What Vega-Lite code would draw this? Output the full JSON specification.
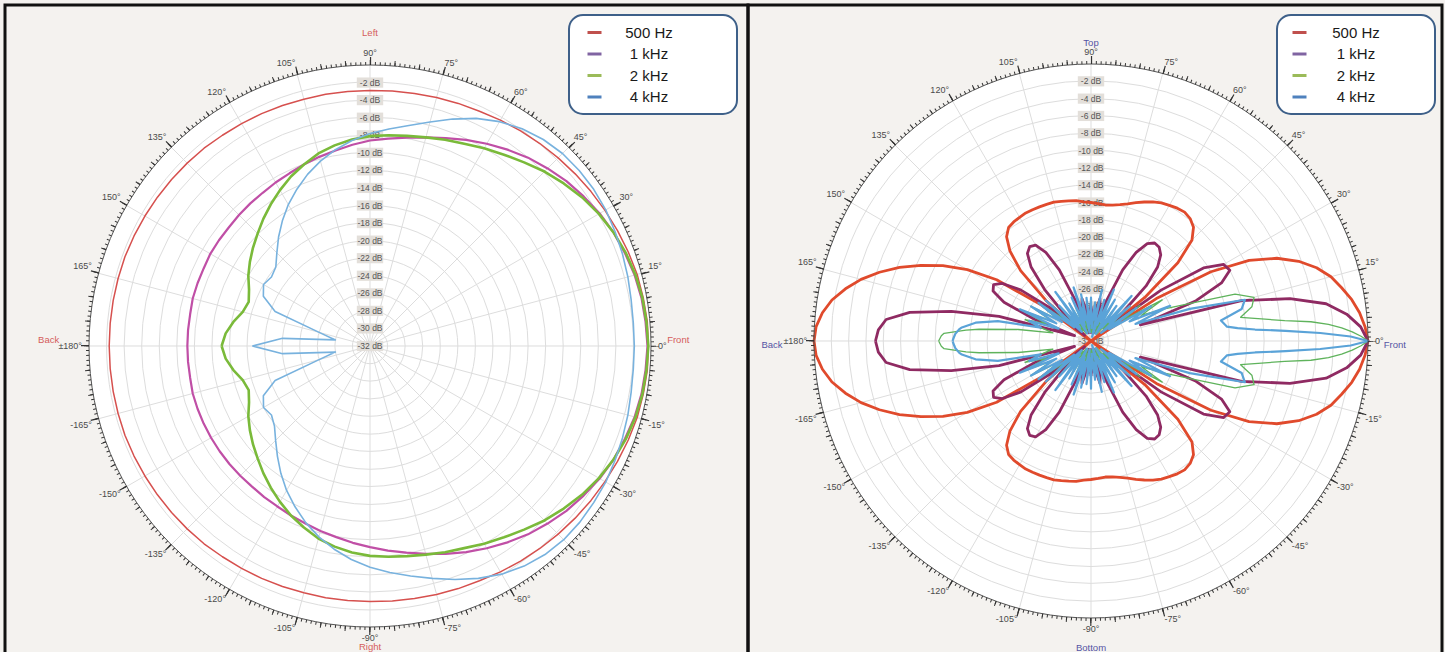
{
"$schema": "https://vega.github.io/schema/vega-lite/v6.json",
"background": "#f4f2ef",
"padding": {"left": 3, "top": 3, "right": 5, "bottom": 0},
"bounds": "flush",
"spacing": 0,
"config": {"view": {"stroke": "#111111", "strokeWidth": 3}, "font": "Liberation Sans", "axis": {"disable": true}, "legend": {"strokeWidth": 2}},
"resolve": {"scale": {"x": "independent", "y": "independent", "size": "independent", "stroke": "independent", "strokeWidth": "independent", "color": "independent"}, "legend": {"color": "independent"}},
"datasets": {
"ang": [{"a":0,"t":"0°"},{"a":15,"t":"15°"},{"a":30,"t":"30°"},{"a":45,"t":"45°"},{"a":60,"t":"60°"},{"a":75,"t":"75°"},{"a":90,"t":"90°"},{"a":105,"t":"105°"},{"a":120,"t":"120°"},{"a":135,"t":"135°"},{"a":150,"t":"150°"},{"a":165,"t":"165°"},{"a":180,"t":"±180°"},{"a":-165,"t":"-165°"},{"a":-150,"t":"-150°"},{"a":-135,"t":"-135°"},{"a":-120,"t":"-120°"},{"a":-105,"t":"-105°"},{"a":-90,"t":"-90°"},{"a":-75,"t":"-75°"},{"a":-60,"t":"-60°"},{"a":-45,"t":"-45°"},{"a":-30,"t":"-30°"},{"a":-15,"t":"-15°"}],
"dbl": [{"db":-2,"t":"-2 dB"},{"db":-4,"t":"-4 dB"},{"db":-6,"t":"-6 dB"},{"db":-8,"t":"-8 dB"},{"db":-10,"t":"-10 dB"},{"db":-12,"t":"-12 dB"},{"db":-14,"t":"-14 dB"},{"db":-16,"t":"-16 dB"},{"db":-18,"t":"-18 dB"},{"db":-20,"t":"-20 dB"},{"db":-22,"t":"-22 dB"},{"db":-24,"t":"-24 dB"},{"db":-26,"t":"-26 dB"},{"db":-28,"t":"-28 dB"},{"db":-30,"t":"-30 dB"},{"db":-32,"t":"-32 dB"}],
"dirL": [{"a":90,"t":"Left"},{"a":-90,"t":"Right"},{"a":180,"t":"Back"},{"a":0,"t":"Front"}],
"dirR": [{"a":90,"t":"Top"},{"a":-90,"t":"Bottom"},{"a":180,"t":"Back"},{"a":0,"t":"Front"}],
"left": [
{"a":-180,"f500":-2.3,"f1k":-11.2,"f2k":-15.1,"f4k":-18.6},
{"a":-175,"f500":-2.3,"f1k":-11.2,"f2k":-15.5,"f4k":-22},
{"a":-170,"f500":-2.3,"f1k":-11.2,"f2k":-16.2,"f4k":-28},
{"a":-165,"f500":-2.3,"f1k":-11.1,"f2k":-17.0,"f4k":-26},
{"a":-160,"f500":-2.3,"f1k":-11.1,"f2k":-17.3,"f4k":-20.5},
{"a":-155,"f500":-2.35,"f1k":-11.1,"f2k":-16.8,"f4k":-18.6},
{"a":-150,"f500":-2.4,"f1k":-11.1,"f2k":-16.0,"f4k":-18.0},
{"a":-145,"f500":-2.45,"f1k":-11.1,"f2k":-15.3,"f4k":-18.3},
{"a":-140,"f500":-2.5,"f1k":-11.1,"f2k":-14.6,"f4k":-17.8},
{"a":-135,"f500":-2.55,"f1k":-11.1,"f2k":-13.9,"f4k":-16.8},
{"a":-130,"f500":-2.6,"f1k":-11.1,"f2k":-13.1,"f4k":-15.6},
{"a":-125,"f500":-2.7,"f1k":-11.0,"f2k":-12.3,"f4k":-14.3},
{"a":-120,"f500":-2.75,"f1k":-10.9,"f2k":-11.5,"f4k":-13.0},
{"a":-115,"f500":-2.8,"f1k":-10.7,"f2k":-10.7,"f4k":-11.8},
{"a":-110,"f500":-2.85,"f1k":-10.5,"f2k":-10.0,"f4k":-10.6},
{"a":-105,"f500":-2.9,"f1k":-10.2,"f2k":-9.3,"f4k":-9.5},
{"a":-100,"f500":-2.9,"f1k":-9.9,"f2k":-8.8,"f4k":-8.5},
{"a":-95,"f500":-2.9,"f1k":-9.5,"f2k":-8.4,"f4k":-7.6},
{"a":-90,"f500":-2.9,"f1k":-9.1,"f2k":-8.1,"f4k":-6.8},
{"a":-85,"f500":-2.85,"f1k":-8.6,"f2k":-7.9,"f4k":-6.1},
{"a":-80,"f500":-2.8,"f1k":-8.1,"f2k":-7.7,"f4k":-5.4},
{"a":-75,"f500":-2.7,"f1k":-7.5,"f2k":-7.4,"f4k":-4.6},
{"a":-70,"f500":-2.6,"f1k":-6.8,"f2k":-7.0,"f4k":-3.7},
{"a":-65,"f500":-2.5,"f1k":-6.1,"f2k":-6.6,"f4k":-2.8},
{"a":-60,"f500":-2.3,"f1k":-5.4,"f2k":-6.0,"f4k":-2.0},
{"a":-55,"f500":-2.1,"f1k":-4.7,"f2k":-5.4,"f4k":-1.4},
{"a":-50,"f500":-1.9,"f1k":-4.0,"f2k":-4.7,"f4k":-1.0},
{"a":-45,"f500":-1.7,"f1k":-3.4,"f2k":-3.9,"f4k":-0.8},
{"a":-40,"f500":-1.5,"f1k":-2.8,"f2k":-3.2,"f4k":-0.8},
{"a":-35,"f500":-1.3,"f1k":-2.3,"f2k":-2.5,"f4k":-0.9},
{"a":-30,"f500":-1.1,"f1k":-1.8,"f2k":-1.9,"f4k":-1.0},
{"a":-25,"f500":-0.9,"f1k":-1.4,"f2k":-1.4,"f4k":-1.2},
{"a":-20,"f500":-0.7,"f1k":-1.1,"f2k":-1.0,"f4k":-1.4},
{"a":-15,"f500":-0.5,"f1k":-0.8,"f2k":-0.7,"f4k":-1.6},
{"a":-10,"f500":-0.4,"f1k":-0.6,"f2k":-0.5,"f4k":-1.8},
{"a":-5,"f500":-0.3,"f1k":-0.5,"f2k":-0.4,"f4k":-1.9},
{"a":0,"f500":-0.3,"f1k":-0.4,"f2k":-0.3,"f4k":-1.9},
{"a":5,"f500":-0.3,"f1k":-0.5,"f2k":-0.4,"f4k":-1.9},
{"a":10,"f500":-0.4,"f1k":-0.6,"f2k":-0.5,"f4k":-1.8},
{"a":15,"f500":-0.5,"f1k":-0.8,"f2k":-0.7,"f4k":-1.6},
{"a":20,"f500":-0.7,"f1k":-1.1,"f2k":-1.0,"f4k":-1.4},
{"a":25,"f500":-0.9,"f1k":-1.4,"f2k":-1.4,"f4k":-1.2},
{"a":30,"f500":-1.1,"f1k":-1.8,"f2k":-1.9,"f4k":-1.0},
{"a":35,"f500":-1.3,"f1k":-2.3,"f2k":-2.5,"f4k":-0.9},
{"a":40,"f500":-1.5,"f1k":-2.8,"f2k":-3.2,"f4k":-0.9},
{"a":45,"f500":-1.7,"f1k":-3.4,"f2k":-3.9,"f4k":-1.0},
{"a":50,"f500":-1.9,"f1k":-4.0,"f2k":-4.7,"f4k":-1.3},
{"a":55,"f500":-2.1,"f1k":-4.7,"f2k":-5.4,"f4k":-1.8},
{"a":60,"f500":-2.3,"f1k":-5.4,"f2k":-6.0,"f4k":-2.5},
{"a":65,"f500":-2.5,"f1k":-6.1,"f2k":-6.6,"f4k":-3.4},
{"a":70,"f500":-2.6,"f1k":-6.8,"f2k":-7.0,"f4k":-4.5},
{"a":75,"f500":-2.7,"f1k":-7.4,"f2k":-7.4,"f4k":-5.6},
{"a":80,"f500":-2.8,"f1k":-7.9,"f2k":-7.7,"f4k":-6.5},
{"a":85,"f500":-2.85,"f1k":-8.3,"f2k":-7.9,"f4k":-7.2},
{"a":90,"f500":-2.9,"f1k":-8.6,"f2k":-8.1,"f4k":-7.8},
{"a":95,"f500":-2.9,"f1k":-9.0,"f2k":-8.4,"f4k":-8.5},
{"a":100,"f500":-2.9,"f1k":-9.4,"f2k":-8.8,"f4k":-9.3},
{"a":105,"f500":-2.9,"f1k":-9.7,"f2k":-9.3,"f4k":-10.2},
{"a":110,"f500":-2.85,"f1k":-10.0,"f2k":-10.0,"f4k":-11.2},
{"a":115,"f500":-2.8,"f1k":-10.3,"f2k":-10.7,"f4k":-12.3},
{"a":120,"f500":-2.75,"f1k":-10.5,"f2k":-11.5,"f4k":-13.4},
{"a":125,"f500":-2.7,"f1k":-10.7,"f2k":-12.3,"f4k":-14.6},
{"a":130,"f500":-2.6,"f1k":-10.8,"f2k":-13.1,"f4k":-15.8},
{"a":135,"f500":-2.55,"f1k":-10.9,"f2k":-13.9,"f4k":-17.0},
{"a":140,"f500":-2.5,"f1k":-11.0,"f2k":-14.6,"f4k":-18.0},
{"a":145,"f500":-2.45,"f1k":-11.0,"f2k":-15.3,"f4k":-18.3},
{"a":150,"f500":-2.4,"f1k":-11.0,"f2k":-16.0,"f4k":-18.0},
{"a":155,"f500":-2.35,"f1k":-11.1,"f2k":-16.8,"f4k":-18.6},
{"a":160,"f500":-2.3,"f1k":-11.1,"f2k":-17.3,"f4k":-20.5},
{"a":165,"f500":-2.3,"f1k":-11.1,"f2k":-17.0,"f4k":-26},
{"a":170,"f500":-2.3,"f1k":-11.2,"f2k":-16.2,"f4k":-28},
{"a":175,"f500":-2.3,"f1k":-11.2,"f2k":-15.5,"f4k":-22},
{"a":180,"f500":-2.3,"f1k":-11.2,"f2k":-15.1,"f4k":-18.6}
],
"right": [
{"a":-180,"f500":0,"f1k":-7.1,"f2k":-14.4,"f4k":-16.0},
{"a":-178,"f2k":-14.7,"f4k":-16.2},
{"a":-177,"f500":-0.2,"f1k":-7.4,"f2k":-15.0,"f4k":-16.3},
{"a":-175,"f2k":-17.5,"f4k":-16.7},
{"a":-174,"f500":-0.8,"f1k":-8.2,"f2k":-19.0,"f4k":-17.0},
{"a":-171,"f500":-1.7,"f1k":-10.8,"f2k":-23.5,"f4k":-18.5},
{"a":-168,"f500":-3.0,"f1k":-15.5,"f2k":-27.5,"f4k":-21.0},
{"a":-165,"f500":-4.5,"f1k":-21.0,"f2k":-26.0,"f4k":-26.0},
{"a":-162,"f500":-6.3,"f1k":-30.0,"f2k":-24.0,"f4k":-24.5},
{"a":-159,"f500":-8.3,"f1k":-25.0,"f2k":-26.5,"f4k":-28.0},
{"a":-156,"f500":-10.5,"f1k":-21.0,"f2k":-23.5,"f4k":-23.0},
{"a":-153,"f500":-12.8,"f1k":-19.3,"f2k":-27.0,"f4k":-27.5},
{"a":-150,"f500":-15.5,"f1k":-19.0,"f2k":-24.0,"f4k":-24.0},
{"a":-147,"f500":-19.0,"f1k":-19.8,"f2k":-27.5,"f4k":-28.0},
{"a":-144,"f500":-25.0,"f1k":-22.0,"f2k":-24.5,"f4k":-24.5},
{"a":-141,"f500":-32.0,"f1k":-26.0,"f2k":-28.0,"f4k":-29.5},
{"a":-138,"f500":-25.0,"f1k":-31.0,"f2k":-25.5,"f4k":-25.0},
{"a":-135,"f500":-20.5,"f1k":-28.0,"f2k":-29.5,"f4k":-30.5},
{"a":-132,"f500":-18.0,"f1k":-24.0,"f2k":-26.5,"f4k":-26.5},
{"a":-129,"f500":-16.5,"f1k":-21.0,"f2k":-30.5,"f4k":-30.0},
{"a":-126,"f500":-15.8,"f1k":-19.5,"f2k":-28.0,"f4k":-25.0},
{"a":-123,"f500":-15.6,"f1k":-19.0,"f2k":-31.0,"f4k":-29.5},
{"a":-120,"f500":-15.5,"f1k":-19.2,"f2k":-27.0,"f4k":-27.0},
{"a":-117,"f500":-15.4,"f1k":-20.5,"f2k":-30.0,"f4k":-31.0},
{"a":-114,"f500":-15.4,"f1k":-23.0,"f2k":-27.5,"f4k":-26.5},
{"a":-111,"f500":-15.4,"f1k":-27.0,"f2k":-31.0,"f4k":-30.0},
{"a":-108,"f500":-15.4,"f1k":-31.0,"f2k":-28.0,"f4k":-25.5},
{"a":-105,"f500":-15.4,"f1k":-28.0,"f2k":-30.5,"f4k":-29.5},
{"a":-102,"f500":-15.5,"f1k":-27.0,"f2k":-28.5,"f4k":-26.5},
{"a":-99,"f500":-15.6,"f1k":-28.5,"f2k":-31.0,"f4k":-31.0},
{"a":-96,"f500":-15.7,"f1k":-31.0,"f2k":-29.5,"f4k":-27.0},
{"a":-93,"f500":-15.9,"f1k":-29.0,"f2k":-31.0,"f4k":-30.0},
{"a":-90,"f500":-16.0,"f1k":-28.0,"f2k":-29.0,"f4k":-26.5},
{"a":-87,"f500":-16.1,"f1k":-29.0,"f2k":-31.0,"f4k":-30.5},
{"a":-84,"f500":-16.2,"f1k":-31.0,"f2k":-29.5,"f4k":-27.5},
{"a":-81,"f500":-16.1,"f1k":-28.5,"f2k":-31.0,"f4k":-29.5},
{"a":-78,"f500":-15.9,"f1k":-27.0,"f2k":-29.0,"f4k":-26.0},
{"a":-75,"f500":-15.6,"f1k":-28.0,"f2k":-31.0,"f4k":-31.5},
{"a":-72,"f500":-15.2,"f1k":-31.0,"f2k":-28.0,"f4k":-27.0},
{"a":-69,"f500":-14.8,"f1k":-27.0,"f2k":-30.5,"f4k":-30.0},
{"a":-66,"f500":-14.4,"f1k":-23.0,"f2k":-28.5,"f4k":-25.5},
{"a":-63,"f500":-14.1,"f1k":-20.5,"f2k":-31.0,"f4k":-29.5},
{"a":-60,"f500":-13.9,"f1k":-19.0,"f2k":-27.0,"f4k":-26.5},
{"a":-57,"f500":-13.7,"f1k":-18.5,"f2k":-30.5,"f4k":-31.0},
{"a":-54,"f500":-13.6,"f1k":-18.6,"f2k":-28.0,"f4k":-27.0},
{"a":-51,"f500":-13.8,"f1k":-19.2,"f2k":-31.0,"f4k":-30.0},
{"a":-48,"f500":-14.3,"f1k":-20.5,"f2k":-27.5,"f4k":-25.0},
{"a":-45,"f500":-15.5,"f1k":-23.0,"f2k":-30.0,"f4k":-29.0},
{"a":-42,"f500":-18.5,"f1k":-27.0,"f2k":-26.0,"f4k":-26.0},
{"a":-39,"f500":-24.0,"f1k":-30.0,"f2k":-29.5,"f4k":-30.5},
{"a":-36,"f500":-32.0,"f1k":-22.0,"f2k":-25.0,"f4k":-25.5},
{"a":-33,"f500":-23.0,"f1k":-16.5,"f2k":-27.5,"f4k":-29.5},
{"a":-30,"f500":-16.0,"f1k":-14.3,"f2k":-22.5,"f4k":-24.0},
{"a":-27,"f500":-11.5,"f1k":-14.0,"f2k":-25.5,"f4k":-27.0},
{"a":-24,"f500":-8.5,"f1k":-15.5,"f2k":-23.0,"f4k":-22.0},
{"a":-21,"f500":-6.3,"f1k":-19.0,"f2k":-20.0,"f4k":-26.5},
{"a":-18,"f500":-4.6,"f1k":-26.0,"f2k":-14.5,"f4k":-20.0},
{"a":-15,"f500":-3.3,"f1k":-14.0,"f2k":-12.5,"f4k":-13.6},
{"a":-12,"f500":-2.4,"f1k":-8.5,"f2k":-13.0,"f4k":-14.2},
{"a":-9,"f500":-1.5,"f1k":-4.5,"f2k":-14.5,"f4k":-16.8},
{"a":-6,"f500":-0.8,"f1k":-2.3,"f2k":-9.5,"f4k":-16.2},
{"a":-5,"f2k":-6.5,"f4k":-15.0},
{"a":-4,"f2k":-4.5,"f4k":-13.0},
{"a":-3,"f500":-0.3,"f1k":-0.8,"f2k":-3.0,"f4k":-9.5},
{"a":-2,"f2k":-1.8,"f4k":-5.5},
{"a":-1,"f2k":-0.8,"f4k":-2.0},
{"a":0,"f500":0,"f1k":0,"f2k":0,"f4k":0},
{"a":1,"f2k":-0.8,"f4k":-2.0},
{"a":2,"f2k":-1.8,"f4k":-5.5},
{"a":3,"f500":-0.3,"f1k":-0.8,"f2k":-3.0,"f4k":-9.5},
{"a":4,"f2k":-4.5,"f4k":-13.0},
{"a":5,"f2k":-6.5,"f4k":-15.0},
{"a":6,"f500":-0.8,"f1k":-2.3,"f2k":-9.5,"f4k":-16.2},
{"a":9,"f500":-1.5,"f1k":-4.5,"f2k":-14.5,"f4k":-16.8},
{"a":12,"f500":-2.4,"f1k":-8.5,"f2k":-13.0,"f4k":-14.2},
{"a":15,"f500":-3.3,"f1k":-14.0,"f2k":-12.5,"f4k":-13.6},
{"a":18,"f500":-4.6,"f1k":-26.0,"f2k":-14.5,"f4k":-20.0},
{"a":21,"f500":-6.3,"f1k":-19.0,"f2k":-20.0,"f4k":-26.5},
{"a":24,"f500":-8.5,"f1k":-15.5,"f2k":-23.0,"f4k":-22.0},
{"a":27,"f500":-11.5,"f1k":-14.0,"f2k":-25.5,"f4k":-27.0},
{"a":30,"f500":-16.0,"f1k":-14.3,"f2k":-22.5,"f4k":-24.0},
{"a":33,"f500":-23.0,"f1k":-16.5,"f2k":-27.5,"f4k":-29.5},
{"a":36,"f500":-32.0,"f1k":-22.0,"f2k":-25.0,"f4k":-25.5},
{"a":39,"f500":-24.0,"f1k":-30.0,"f2k":-29.5,"f4k":-30.5},
{"a":42,"f500":-18.5,"f1k":-27.0,"f2k":-26.0,"f4k":-26.0},
{"a":45,"f500":-15.5,"f1k":-23.0,"f2k":-30.0,"f4k":-29.0},
{"a":48,"f500":-14.3,"f1k":-20.5,"f2k":-27.5,"f4k":-25.0},
{"a":51,"f500":-13.8,"f1k":-19.2,"f2k":-31.0,"f4k":-30.0},
{"a":54,"f500":-13.6,"f1k":-18.6,"f2k":-28.0,"f4k":-27.0},
{"a":57,"f500":-13.7,"f1k":-18.5,"f2k":-30.5,"f4k":-31.0},
{"a":60,"f500":-13.9,"f1k":-19.0,"f2k":-27.0,"f4k":-26.5},
{"a":63,"f500":-14.1,"f1k":-20.5,"f2k":-31.0,"f4k":-29.5},
{"a":66,"f500":-14.4,"f1k":-23.0,"f2k":-28.5,"f4k":-25.5},
{"a":69,"f500":-14.8,"f1k":-27.0,"f2k":-30.5,"f4k":-30.0},
{"a":72,"f500":-15.2,"f1k":-31.0,"f2k":-28.0,"f4k":-27.0},
{"a":75,"f500":-15.6,"f1k":-28.0,"f2k":-31.0,"f4k":-31.5},
{"a":78,"f500":-15.9,"f1k":-27.0,"f2k":-29.0,"f4k":-26.0},
{"a":81,"f500":-16.1,"f1k":-28.5,"f2k":-31.0,"f4k":-29.5},
{"a":84,"f500":-16.2,"f1k":-31.0,"f2k":-29.5,"f4k":-27.5},
{"a":87,"f500":-16.1,"f1k":-29.0,"f2k":-31.0,"f4k":-30.5},
{"a":90,"f500":-16.0,"f1k":-28.0,"f2k":-29.0,"f4k":-27.0},
{"a":93,"f500":-15.9,"f1k":-29.0,"f2k":-31.0,"f4k":-30.0},
{"a":96,"f500":-15.7,"f1k":-31.0,"f2k":-29.5,"f4k":-27.0},
{"a":99,"f500":-15.6,"f1k":-28.5,"f2k":-31.0,"f4k":-31.0},
{"a":102,"f500":-15.5,"f1k":-27.0,"f2k":-28.5,"f4k":-26.5},
{"a":105,"f500":-15.4,"f1k":-28.0,"f2k":-30.5,"f4k":-29.5},
{"a":108,"f500":-15.4,"f1k":-31.0,"f2k":-28.0,"f4k":-25.5},
{"a":111,"f500":-15.4,"f1k":-27.0,"f2k":-31.0,"f4k":-30.0},
{"a":114,"f500":-15.4,"f1k":-23.0,"f2k":-27.5,"f4k":-26.5},
{"a":117,"f500":-15.4,"f1k":-20.5,"f2k":-30.0,"f4k":-31.0},
{"a":120,"f500":-15.5,"f1k":-19.2,"f2k":-27.0,"f4k":-27.0},
{"a":123,"f500":-15.6,"f1k":-19.0,"f2k":-31.0,"f4k":-29.5},
{"a":126,"f500":-15.8,"f1k":-19.5,"f2k":-28.0,"f4k":-25.0},
{"a":129,"f500":-16.5,"f1k":-21.0,"f2k":-30.5,"f4k":-30.0},
{"a":132,"f500":-18.0,"f1k":-24.0,"f2k":-26.5,"f4k":-26.5},
{"a":135,"f500":-20.5,"f1k":-28.0,"f2k":-29.5,"f4k":-30.5},
{"a":138,"f500":-25.0,"f1k":-31.0,"f2k":-25.5,"f4k":-25.0},
{"a":141,"f500":-32.0,"f1k":-26.0,"f2k":-28.0,"f4k":-29.5},
{"a":144,"f500":-25.0,"f1k":-22.0,"f2k":-24.5,"f4k":-24.5},
{"a":147,"f500":-19.0,"f1k":-19.8,"f2k":-27.5,"f4k":-28.0},
{"a":150,"f500":-15.5,"f1k":-19.0,"f2k":-24.0,"f4k":-24.0},
{"a":153,"f500":-12.8,"f1k":-19.3,"f2k":-27.0,"f4k":-27.5},
{"a":156,"f500":-10.5,"f1k":-21.0,"f2k":-23.5,"f4k":-23.0},
{"a":159,"f500":-8.3,"f1k":-25.0,"f2k":-26.5,"f4k":-28.0},
{"a":162,"f500":-6.3,"f1k":-30.0,"f2k":-24.0,"f4k":-24.5},
{"a":165,"f500":-4.5,"f1k":-21.0,"f2k":-26.0,"f4k":-26.0},
{"a":168,"f500":-3.0,"f1k":-15.5,"f2k":-27.5,"f4k":-21.0},
{"a":171,"f500":-1.7,"f1k":-10.8,"f2k":-23.5,"f4k":-18.5},
{"a":174,"f500":-0.8,"f1k":-8.2,"f2k":-19.0,"f4k":-17.0},
{"a":175,"f2k":-17.5,"f4k":-16.7},
{"a":177,"f500":-0.2,"f1k":-7.4,"f2k":-15.0,"f4k":-16.3},
{"a":178,"f2k":-14.7,"f4k":-16.2},
{"a":180,"f500":0,"f1k":-7.1,"f2k":-14.4,"f4k":-16.0}
]
},
"hconcat": [
{
"width": 743, "height": 649,
"layer": [
{"data": {"values": [{"r": 32}]}, "mark": {"type": "point", "shape": "circle", "filled": true, "fill": "#ffffff", "opacity": 1, "strokeWidth": 0},
 "encoding": {"x": {"datum": 0, "type": "quantitative", "scale": {"domain": [-41.566, 43.046], "nice": false, "zero": false}, "axis": null}, "y": {"datum": 0, "type": "quantitative", "scale": {"domain": [-35.075, 38.833], "nice": false, "zero": false}, "axis": null}, "size": {"field": "r", "type": "quantitative", "scale": {"type": "pow", "exponent": 2, "domain": [0, 32], "range": [0, 315844], "zero": true, "nice": false}, "legend": null}}},
{"data": {"name": "dbl"}, "transform": [{"filter": "datum.db > -32"}, {"calculate": "datum.db + 32", "as": "r"}], "mark": {"type": "point", "shape": "circle", "filled": false, "stroke": "#dddddd", "opacity": 1, "strokeWidth": 1},
 "encoding": {"x": {"datum": 0, "type": "quantitative"}, "y": {"datum": 0, "type": "quantitative"}, "size": {"field": "r", "type": "quantitative", "legend": null}}},
{"data": {"name": "ang"}, "transform": [{"calculate": "32*cos(datum.a*PI/180)", "as": "ex"}, {"calculate": "32*sin(datum.a*PI/180)", "as": "ey"}, {"calculate": "0", "as": "o"}], "mark": {"type": "rule", "stroke": "#dddddd", "strokeWidth": 1},
 "encoding": {"x": {"field": "o", "type": "quantitative"}, "y": {"field": "o", "type": "quantitative"}, "x2": {"field": "ex"}, "y2": {"field": "ey"}}},
{"data": {"name": "dbl"}, "transform": [{"calculate": "datum.db + 32", "as": "r"}], "mark": {"type": "point", "shape": "M-2.2,-0.85H2.2V0.85H-2.2Z", "size": 144, "filled": true, "fill": "#e3dfda", "opacity": 1, "strokeWidth": 0},
 "encoding": {"x": {"datum": 0, "type": "quantitative"}, "y": {"field": "r", "type": "quantitative"}}},
{"data": {"name": "dbl"}, "transform": [{"calculate": "datum.db + 32", "as": "r"}], "mark": {"type": "text", "fontSize": 8.5, "fill": "#555555"},
 "encoding": {"x": {"datum": 0, "type": "quantitative"}, "y": {"field": "r", "type": "quantitative"}, "text": {"field": "t", "type": "nominal"}}},
{"data": {"name": "left"}, "transform": [{"fold": ["f500", "f1k", "f2k", "f4k"], "as": ["k", "v"]}, {"filter": "isValid(datum.v)"}, {"calculate": "max(datum.v + 32, 0) * cos(datum.a*PI/180)", "as": "px"}, {"calculate": "max(datum.v + 32, 0) * sin(datum.a*PI/180)", "as": "py"}],
 "mark": {"type": "line", "strokeJoin": "round"},
 "encoding": {"x": {"field": "px", "type": "quantitative"}, "y": {"field": "py", "type": "quantitative"}, "order": {"field": "a", "type": "quantitative"},
  "stroke": {"field": "k", "type": "nominal", "scale": {"domain": ["f500", "f1k", "f2k", "f4k"], "range": ["#d6504e", "#c04fa6", "#7aba3a", "#78b2de"]}, "legend": null},
  "strokeWidth": {"field": "k", "type": "nominal", "scale": {"type": "ordinal", "domain": ["f500", "f1k", "f2k", "f4k"], "range": [1.5, 2.2, 2.6, 1.6]}, "legend": null}}},
{"data": {"values": [{"r": 32}]}, "mark": {"type": "point", "shape": "circle", "filled": false, "stroke": "#555555", "opacity": 1, "strokeWidth": 1},
 "encoding": {"x": {"datum": 0, "type": "quantitative"}, "y": {"datum": 0, "type": "quantitative"}, "size": {"field": "r", "type": "quantitative", "legend": null}}},
{"data": {"values": [{"r": 32.1708}]}, "mark": {"type": "point", "shape": "circle", "filled": false, "stroke": "#333333", "opacity": 1, "strokeWidth": 3, "strokeDash": [1, 3.93056], "strokeDashOffset": 0.5},
 "encoding": {"x": {"datum": 0, "type": "quantitative"}, "y": {"datum": 0, "type": "quantitative"}, "size": {"field": "r", "type": "quantitative", "legend": null}}},
{"data": {"values": [{"r": 32.2847}]}, "mark": {"type": "point", "shape": "circle", "filled": false, "stroke": "#333333", "opacity": 1, "strokeWidth": 5, "strokeDash": [1, 23.74], "strokeDashOffset": 0.5},
 "encoding": {"x": {"datum": 0, "type": "quantitative"}, "y": {"datum": 0, "type": "quantitative"}, "size": {"field": "r", "type": "quantitative", "legend": null}}},
{"data": {"values": [{"r": 32.4555}]}, "mark": {"type": "point", "shape": "circle", "filled": false, "stroke": "#333333", "opacity": 1, "strokeWidth": 8, "strokeDash": [1.2, 73.4128], "strokeDashOffset": 0.6},
 "encoding": {"x": {"datum": 0, "type": "quantitative"}, "y": {"datum": 0, "type": "quantitative"}, "size": {"field": "r", "type": "quantitative", "legend": null}}},
{"data": {"name": "ang"}, "transform": [{"calculate": "32.8*cos(datum.a*PI/180)", "as": "lx"}, {"calculate": "32.8*sin(datum.a*PI/180)", "as": "ly"}],
 "mark": {"type": "text", "fontSize": 9, "fill": "#4a4a4a", "align": {"expr": "datum.a == 90 || datum.a == -90 ? 'center' : (datum.a > -90 && datum.a < 90 ? 'left' : 'right')"}, "baseline": {"expr": "datum.a == 0 || datum.a == 180 ? 'middle' : (datum.a > 0 ? 'bottom' : 'top')"}},
 "encoding": {"x": {"field": "lx", "type": "quantitative"}, "y": {"field": "ly", "type": "quantitative"}, "text": {"field": "t", "type": "nominal"}}},
{"data": {"name": "dirL"}, "transform": [{"calculate": "cos(datum.a*PI/180) * (datum.a == 180 ? 36.6 : 35.1)", "as": "lx"}, {"calculate": "sin(datum.a*PI/180) * 34.95 + 0.68", "as": "ly"}],
 "mark": {"type": "text", "fontSize": 9.5, "fill": "#d45c5c"},
 "encoding": {"x": {"field": "lx", "type": "quantitative"}, "y": {"field": "ly", "type": "quantitative"}, "text": {"field": "t", "type": "nominal"}}},
{"data": {"values": [{"k": "500 Hz"}]}, "transform": [{"filter": "false"}], "mark": {"type": "line"},
 "encoding": {"x": {"datum": 0, "type": "quantitative"}, "y": {"datum": 0, "type": "quantitative"},
  "color": {"field": "k", "type": "nominal", "scale": {"domain": ["500 Hz", "1 kHz", "2 kHz", "4 kHz"], "range": ["#c0504d", "#8064a2", "#9bbb59", "#4f81bd"]},
   "legend": {"orient": "none", "legendX": 564, "legendY": 10, "title": "\u200b\u00a0\u00a0\u00a0\u00a0\u00a0\u00a0\u00a0\u00a0\u00a0\u00a0\u00a0\u00a0\u00a0\u200b", "titleOrient": "right", "titleFontSize": 15, "titleFont": "Liberation Sans", "titlePadding": 0, "symbolType": "stroke", "symbolSize": 196, "symbolStrokeWidth": 3, "symbolOffset": 8, "labelFontSize": 15, "labelFont": "Liberation Sans", "labelColor": "#1a1a1a", "labelAlign": "center", "labelOffset": 46, "rowPadding": 4.5, "padding": 9, "strokeColor": "#3e6089", "fillColor": "#ffffff", "cornerRadius": 14}}}}
]
},
{
"width": 694, "height": 649,
"layer": [
{"data": {"values": [{"r": 32}]}, "mark": {"type": "point", "shape": "circle", "filled": true, "fill": "#ffffff", "opacity": 1, "strokeWidth": 0},
 "encoding": {"x": {"datum": 0, "type": "quantitative", "scale": {"domain": [-39.625, 40.549], "nice": false, "zero": false}, "axis": null}, "y": {"datum": 0, "type": "quantitative", "scale": {"domain": [-36.159, 38.816], "nice": false, "zero": false}, "axis": null}, "size": {"field": "r", "type": "quantitative", "scale": {"type": "pow", "exponent": 2, "domain": [0, 32], "range": [0, 306916], "zero": true, "nice": false}, "legend": null}}},
{"data": {"name": "dbl"}, "transform": [{"filter": "datum.db > -32"}, {"calculate": "datum.db + 32", "as": "r"}], "mark": {"type": "point", "shape": "circle", "filled": false, "stroke": "#dddddd", "opacity": 1, "strokeWidth": 1},
 "encoding": {"x": {"datum": 0, "type": "quantitative"}, "y": {"datum": 0, "type": "quantitative"}, "size": {"field": "r", "type": "quantitative", "legend": null}}},
{"data": {"name": "ang"}, "transform": [{"calculate": "32*cos(datum.a*PI/180)", "as": "ex"}, {"calculate": "32*sin(datum.a*PI/180)", "as": "ey"}, {"calculate": "0", "as": "o"}], "mark": {"type": "rule", "stroke": "#dddddd", "strokeWidth": 1},
 "encoding": {"x": {"field": "o", "type": "quantitative"}, "y": {"field": "o", "type": "quantitative"}, "x2": {"field": "ex"}, "y2": {"field": "ey"}}},
{"data": {"name": "dbl"}, "transform": [{"calculate": "datum.db + 32", "as": "r"}], "mark": {"type": "point", "shape": "M-2.2,-0.85H2.2V0.85H-2.2Z", "size": 144, "filled": true, "fill": "#e3dfda", "opacity": 1, "strokeWidth": 0},
 "encoding": {"x": {"datum": 0, "type": "quantitative"}, "y": {"field": "r", "type": "quantitative"}}},
{"data": {"name": "dbl"}, "transform": [{"calculate": "datum.db + 32", "as": "r"}], "mark": {"type": "text", "fontSize": 8.5, "fill": "#555555"},
 "encoding": {"x": {"datum": 0, "type": "quantitative"}, "y": {"field": "r", "type": "quantitative"}, "text": {"field": "t", "type": "nominal"}}},
{"data": {"name": "right"}, "transform": [{"fold": ["f500", "f1k", "f2k", "f4k"], "as": ["k", "v"]}, {"filter": "isValid(datum.v)"}, {"calculate": "max(datum.v + 32, 0) * cos(datum.a*PI/180)", "as": "px"}, {"calculate": "max(datum.v + 32, 0) * sin(datum.a*PI/180)", "as": "py"}],
 "mark": {"type": "line", "strokeJoin": "round"},
 "encoding": {"x": {"field": "px", "type": "quantitative"}, "y": {"field": "py", "type": "quantitative"}, "order": {"field": "a", "type": "quantitative"},
  "stroke": {"field": "k", "type": "nominal", "scale": {"domain": ["f500", "f1k", "f2k", "f4k"], "range": ["#e04a2c", "#8f2a62", "#5fb35c", "#5aa3d8"]}, "legend": null},
  "strokeWidth": {"field": "k", "type": "nominal", "scale": {"type": "ordinal", "domain": ["f500", "f1k", "f2k", "f4k"], "range": [2.8, 2.8, 1.3, 2.2]}, "legend": null}}},
{"data": {"values": [{"r": 32}]}, "mark": {"type": "point", "shape": "circle", "filled": false, "stroke": "#555555", "opacity": 1, "strokeWidth": 1},
 "encoding": {"x": {"datum": 0, "type": "quantitative"}, "y": {"datum": 0, "type": "quantitative"}, "size": {"field": "r", "type": "quantitative", "legend": null}}},
{"data": {"values": [{"r": 32.1733}]}, "mark": {"type": "point", "shape": "circle", "filled": false, "stroke": "#333333", "opacity": 1, "strokeWidth": 3, "strokeDash": [1, 3.86074], "strokeDashOffset": 0.5},
 "encoding": {"x": {"datum": 0, "type": "quantitative"}, "y": {"datum": 0, "type": "quantitative"}, "size": {"field": "r", "type": "quantitative", "legend": null}}},
{"data": {"values": [{"r": 32.2888}]}, "mark": {"type": "point", "shape": "circle", "filled": false, "stroke": "#333333", "opacity": 1, "strokeWidth": 5, "strokeDash": [1, 23.391], "strokeDashOffset": 0.5},
 "encoding": {"x": {"datum": 0, "type": "quantitative"}, "y": {"datum": 0, "type": "quantitative"}, "size": {"field": "r", "type": "quantitative", "legend": null}}},
{"data": {"values": [{"r": 32.4621}]}, "mark": {"type": "point", "shape": "circle", "filled": false, "stroke": "#333333", "opacity": 1, "strokeWidth": 8, "strokeDash": [1.2, 72.3656], "strokeDashOffset": 0.6},
 "encoding": {"x": {"datum": 0, "type": "quantitative"}, "y": {"datum": 0, "type": "quantitative"}, "size": {"field": "r", "type": "quantitative", "legend": null}}},
{"data": {"name": "ang"}, "transform": [{"calculate": "32.81*cos(datum.a*PI/180)", "as": "lx"}, {"calculate": "32.81*sin(datum.a*PI/180)", "as": "ly"}],
 "mark": {"type": "text", "fontSize": 9, "fill": "#4a4a4a", "align": {"expr": "datum.a == 90 || datum.a == -90 ? 'center' : (datum.a > -90 && datum.a < 90 ? 'left' : 'right')"}, "baseline": {"expr": "datum.a == 0 || datum.a == 180 ? 'middle' : (datum.a > 0 ? 'bottom' : 'top')"}},
 "encoding": {"x": {"field": "lx", "type": "quantitative"}, "y": {"field": "ly", "type": "quantitative"}, "text": {"field": "t", "type": "nominal"}}},
{"data": {"name": "dirR"}, "transform": [{"calculate": "cos(datum.a*PI/180) * (datum.a == 180 ? 36.85 : 35.1)", "as": "lx"}, {"calculate": "sin(datum.a*PI/180) * 34.95 - 0.5", "as": "ly"}],
 "mark": {"type": "text", "fontSize": 9.5, "fill": "#5454a4"},
 "encoding": {"x": {"field": "lx", "type": "quantitative"}, "y": {"field": "ly", "type": "quantitative"}, "text": {"field": "t", "type": "nominal"}}},
{"data": {"values": [{"k": "500 Hz"}]}, "transform": [{"filter": "false"}], "mark": {"type": "line"},
 "encoding": {"x": {"datum": 0, "type": "quantitative"}, "y": {"datum": 0, "type": "quantitative"},
  "color": {"field": "k", "type": "nominal", "scale": {"domain": ["500 Hz", "1 kHz", "2 kHz", "4 kHz"], "range": ["#c0504d", "#8064a2", "#9bbb59", "#4f81bd"]},
   "legend": {"orient": "none", "legendX": 529, "legendY": 10, "title": "\u200b\u00a0\u00a0\u00a0\u00a0\u00a0\u00a0\u00a0\u00a0\u00a0\u00a0\u00a0\u200b", "titleOrient": "right", "titleFontSize": 15, "titleFont": "Liberation Sans", "titlePadding": 0, "symbolType": "stroke", "symbolSize": 196, "symbolStrokeWidth": 3, "symbolOffset": 5, "labelFontSize": 15, "labelFont": "Liberation Sans", "labelColor": "#1a1a1a", "labelAlign": "center", "labelOffset": 48, "rowPadding": 4.5, "padding": 9, "strokeColor": "#3e6089", "fillColor": "#ffffff", "cornerRadius": 14}}}}
]
}
]
}
